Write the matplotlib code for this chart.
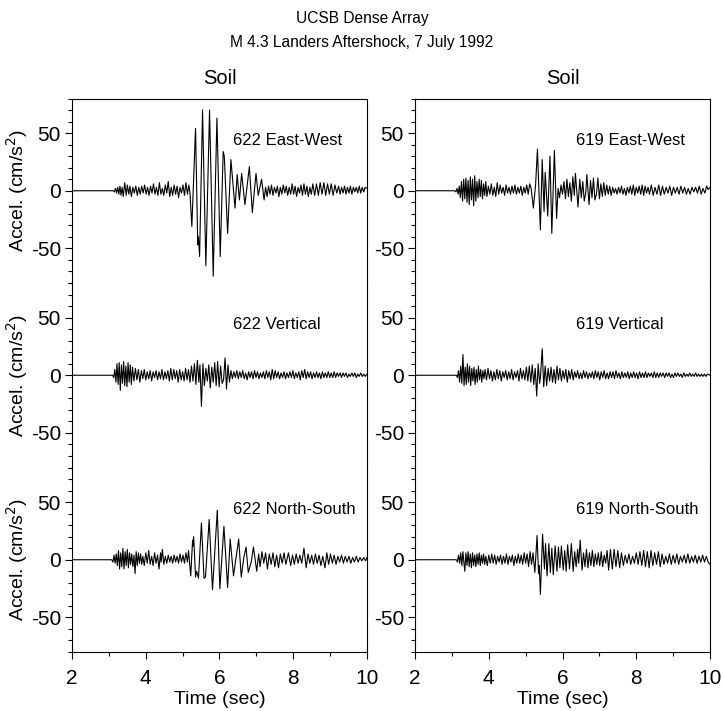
import matplotlib
matplotlib.use("Agg")
import matplotlib.pyplot as plt
import numpy as np
from matplotlib.ticker import MultipleLocator

plt.rcParams['font.family'] = ['Liberation Sans', 'DejaVu Sans']
plt.rcParams['axes.unicode_minus'] = False

# Traces as (time s, accel cm/s^2) vertices
ew622 = [(2.00, 0), (3.12, 0), (3.15, -1), (3.18, 2), (3.21, -2), (3.24, 3), (3.27, -3), (3.30, 4), (3.33, -4), (3.36, 3),
         (3.39, -5), (3.43, 7), (3.47, -4), (3.50, 5), (3.54, -3), (3.57, 4), (3.61, -5), (3.65, 3), (3.69, -2), (3.73, 4),
         (3.77, -4), (3.81, 3), (3.85, -3), (3.89, 4), (3.93, -2), (3.97, 5), (4.01, -3), (4.05, 3), (4.09, -4), (4.13, 4),
         (4.17, -2), (4.21, 6), (4.25, -3), (4.29, 3), (4.33, -4), (4.37, 7), (4.41, -3), (4.45, 2), (4.49, -4), (4.53, 5),
         (4.57, -2), (4.61, 8), (4.65, -5), (4.69, 3), (4.73, -4), (4.77, 5), (4.81, -3), (4.85, 4), (4.89, -6), (4.93, 3),
         (4.97, -2), (5.01, 5), (5.05, -4), (5.09, 7), (5.13, -3), (5.17, 5), (5.20, -2),
         (5.25, -31), (5.35, 54), (5.41, -47), (5.43, -40), (5.46, -57), (5.54, 70), (5.63, -65), (5.73, 70), (5.83, -74),
         (5.93, 63), (6.02, -57), (6.10, 34), (6.13, 30), (6.22, -37), (6.31, 27), (6.42, -15), (6.48, 14), (6.54, -8),
         (6.60, 15), (6.69, -12), (6.81, 21), (6.89, -19), (6.99, 15), (7.05, -4), (7.14, 10), (7.21, -8),
         (7.25, 3), (7.29, -5), (7.33, 4), (7.37, -3), (7.41, 5), (7.45, -4), (7.49, 3), (7.53, -2), (7.57, 4), (7.61, -5),
         (7.65, 3), (7.69, -3), (7.73, 5), (7.77, -2), (7.81, 4), (7.85, -4), (7.89, 3), (7.93, -3), (7.97, 6), (8.01, -3),
         (8.05, 4), (8.09, -5), (8.13, 3), (8.17, -2), (8.21, 5), (8.25, -4), (8.29, 6), (8.33, -3), (8.37, 4), (8.41, -5),
         (8.45, 3), (8.49, -3), (8.53, 6), (8.58, -4), (8.63, 6), (8.68, -4), (8.73, 7), (8.78, -3), (8.83, 7), (8.88, -4),
         (8.93, 6), (8.98, -3), (9.03, 6), (9.08, -4), (9.13, 5), (9.18, -2), (9.23, 4), (9.27, -3), (9.31, 3), (9.35, -2),
         (9.39, 4), (9.43, -3), (9.47, 3), (9.51, -2), (9.55, 4), (9.59, -3), (9.63, 3), (9.67, -1), (9.71, 3), (9.75, -2),
         (9.79, 4), (9.83, -2), (9.87, 3), (9.91, -1), (9.95, 3), (10.00, 2)]

v622 = [(2.00, 0), (3.10, 0), (3.13, -2), (3.16, 5), (3.19, -6), (3.22, 10), (3.25, -8), (3.28, 11), (3.31, -13), (3.34, 9),
        (3.37, -7), (3.40, 12), (3.43, -9), (3.46, 8), (3.49, -10), (3.52, 11), (3.55, -6), (3.58, 9), (3.61, -8), (3.64, 7),
        (3.68, -5), (3.72, 6), (3.76, -4), (3.80, 5), (3.84, -6), (3.88, 4), (3.92, -3), (3.96, 5), (4.00, -4), (4.04, 3),
        (4.08, -3), (4.12, 4), (4.16, -5), (4.20, 3), (4.24, -2), (4.28, 4), (4.32, -4), (4.36, 3), (4.40, -3), (4.44, 5),
        (4.48, -4), (4.52, 3), (4.56, -3), (4.60, 4), (4.64, -5), (4.68, 6), (4.72, -4), (4.76, 5), (4.80, -3), (4.84, 4),
        (4.88, -6), (4.92, 5), (4.96, -4), (5.00, 3), (5.04, -5), (5.08, 6), (5.12, -4), (5.16, 5), (5.20, -6), (5.24, 8),
        (5.28, -5), (5.32, 10), (5.36, -8), (5.40, 13), (5.44, -6), (5.47, 9), (5.51, -27), (5.55, 10), (5.59, -9),
        (5.63, 6), (5.67, -5), (5.71, 9), (5.75, -11), (5.79, 7), (5.83, -6), (5.87, 11), (5.91, -9), (5.95, 12),
        (5.99, -10), (6.03, 8), (6.07, -7), (6.11, -4), (6.15, 15), (6.19, -12), (6.23, 9), (6.27, -6), (6.31, 4),
        (6.35, -3), (6.39, 3), (6.43, -2), (6.47, 4), (6.51, -3), (6.55, 3), (6.59, -2), (6.63, 4), (6.67, -3), (6.71, 2),
        (6.75, -4), (6.79, 3), (6.83, -2), (6.87, 3), (6.91, -3), (6.95, 4), (6.99, -2), (7.03, 3), (7.07, -3), (7.11, 2),
        (7.15, -2), (7.19, 3), (7.23, -3), (7.27, 4), (7.31, -2), (7.35, 3), (7.39, -4), (7.43, 5), (7.47, -3), (7.51, 4),
        (7.55, -2), (7.59, 3), (7.63, -3), (7.67, 2), (7.71, -2), (7.75, 3), (7.79, -3), (7.83, 2), (7.87, -2), (7.91, 3),
        (7.95, -2), (7.99, 4), (8.03, -3), (8.07, 2), (8.11, -2), (8.15, 3), (8.19, -4), (8.23, 4), (8.27, -2), (8.31, 5),
        (8.35, -3), (8.39, 3), (8.43, -2), (8.47, 3), (8.51, -3), (8.55, 2), (8.59, -2), (8.63, 3), (8.67, -2), (8.71, 2),
        (8.75, -3), (8.79, 3), (8.83, -2), (8.87, 2), (8.91, -2), (8.95, 3), (8.99, -2), (9.03, 2), (9.07, -2), (9.11, 3),
        (9.15, -2), (9.19, 2), (9.23, -1), (9.27, 2), (9.31, -2), (9.35, 2), (9.39, -1), (9.43, 2), (9.47, -2), (9.51, 1),
        (9.55, -1), (9.59, 2), (9.63, -1), (9.67, 2), (9.71, -2), (9.75, 1), (9.79, -1), (9.83, 2), (9.87, -1), (9.91, 1),
        (9.95, -1), (10.00, 1)]

ns622 = [(2.00, 0), (3.08, 0), (3.11, -2), (3.14, 4), (3.17, -3), (3.20, 5), (3.23, -5), (3.26, 8), (3.29, -8), (3.32, 6),
         (3.35, -6), (3.38, 10), (3.41, -8), (3.44, 7), (3.47, -5), (3.50, 9), (3.53, -7), (3.56, 6), (3.59, -4), (3.62, 5),
         (3.65, -6), (3.68, 4), (3.71, -12), (3.74, 7), (3.77, -5), (3.80, 6), (3.83, -3), (3.86, 5), (3.89, -4), (3.92, 3),
         (3.96, -5), (4.00, 6), (4.04, -3), (4.08, 8), (4.12, -4), (4.16, 3), (4.20, -5), (4.24, 6), (4.28, -3), (4.32, 4),
         (4.36, -8), (4.40, 6), (4.42, -2), (4.45, 9), (4.49, -4), (4.53, 3), (4.57, -3), (4.61, 4), (4.65, -2), (4.69, 3),
         (4.73, -3), (4.77, 4), (4.81, -2), (4.85, 3), (4.89, -3), (4.93, 5), (4.97, -2), (5.01, 4), (5.05, -3), (5.09, 6),
         (5.13, -2), (5.16, 8), (5.19, -3), (5.22, -14), (5.27, 17), (5.28, 12), (5.30, 20), (5.35, -15), (5.38, -10),
         (5.43, -16), (5.51, 32), (5.58, -16), (5.62, -15), (5.72, 35), (5.81, -26), (5.94, 43), (6.01, -25), (6.12, 29),
         (6.22, -24), (6.29, 18), (6.38, -14), (6.52, 18), (6.59, -15), (6.66, 2), (6.72, 11), (6.78, -11), (6.86, -2),
         (6.92, 11), (7.01, -10), (7.06, 5), (7.10, -6), (7.15, 7), (7.20, -3), (7.25, 6), (7.30, -8), (7.35, 5), (7.40, -4),
         (7.45, 6), (7.50, -6), (7.55, 4), (7.60, -7), (7.65, 5), (7.70, -3), (7.75, 6), (7.80, -4), (7.87, 6), (7.93, -5),
         (7.98, 4), (8.03, -4), (8.08, 5), (8.13, -3), (8.18, 4), (8.23, -3), (8.29, 10), (8.35, -7), (8.40, 5), (8.45, -3),
         (8.50, 4), (8.55, -4), (8.60, 5), (8.65, -3), (8.70, 4), (8.75, -5), (8.80, 3), (8.86, -7), (8.91, 6), (8.96, -4),
         (9.01, 5), (9.06, -3), (9.11, 4), (9.16, -4), (9.21, 3), (9.26, -2), (9.31, 4), (9.36, -3), (9.41, 3), (9.46, -2),
         (9.51, 3), (9.56, -3), (9.61, 2), (9.66, -2), (9.71, 3), (9.76, -2), (9.81, 2), (9.86, -1), (9.91, 2), (9.96, -1),
         (10.00, 2)]

ew619 = [(2.00, 0), (3.08, 0), (3.11, -1), (3.14, 2), (3.17, -3), (3.20, 4), (3.23, -6), (3.26, 8), (3.29, -9), (3.32, 10),
         (3.35, -7), (3.38, 11), (3.41, -10), (3.44, 9), (3.47, -12), (3.50, 12), (3.53, -8), (3.56, 10), (3.59, -13),
         (3.62, 13), (3.65, -9), (3.68, 8), (3.71, -6), (3.74, 10), (3.77, -5), (3.80, 9), (3.83, -7), (3.86, 6), (3.89, -4),
         (3.92, 8), (3.95, -5), (3.99, 4), (4.03, -3), (4.07, 6), (4.11, -4), (4.15, 3), (4.19, -5), (4.23, 7), (4.27, -3),
         (4.31, 5), (4.35, -2), (4.39, 3), (4.43, -4), (4.47, 5), (4.51, -2), (4.55, 3), (4.59, -3), (4.63, 4), (4.67, -2),
         (4.71, 5), (4.75, -3), (4.79, 3), (4.83, -2), (4.87, 4), (4.91, -4), (4.95, 3), (4.99, -2), (5.03, 5), (5.07, -3),
         (5.11, 6), (5.15, 2), (5.21, -15), (5.27, 5), (5.32, 36), (5.40, -34), (5.45, 27), (5.50, -18), (5.53, 16),
         (5.60, -22), (5.66, 30), (5.71, -37), (5.78, 35), (5.84, -24), (5.88, 2), (5.92, -6), (5.96, 5), (6.00, -3),
         (6.04, 8), (6.08, -7), (6.12, 10), (6.16, -5), (6.20, 7), (6.24, -9), (6.28, 12), (6.32, -4), (6.35, 15),
         (6.42, -14), (6.47, 10), (6.51, -6), (6.55, 8), (6.59, -9), (6.63, -2), (6.66, 14), (6.72, -12), (6.76, 9),
         (6.80, -6), (6.84, 11), (6.88, -8), (6.92, -3), (6.96, 11), (7.00, -7), (7.04, 6), (7.08, -5), (7.12, 7), (7.16, -4),
         (7.20, 5), (7.24, -3), (7.28, 4), (7.32, -4), (7.36, 3), (7.40, -2), (7.44, 2), (7.48, -3), (7.52, 3), (7.56, -2),
         (7.60, 4), (7.64, -3), (7.68, 2), (7.72, -4), (7.76, 3), (7.80, -2), (7.84, 4), (7.88, -3), (7.92, 5), (7.96, -4),
         (8.00, 3), (8.04, -2), (8.08, 4), (8.12, -3), (8.16, 5), (8.20, -4), (8.24, 4), (8.28, -2), (8.32, 3), (8.36, -3),
         (8.41, 5), (8.46, -4), (8.51, 3), (8.56, -3), (8.61, 5), (8.66, -4), (8.71, 4), (8.76, -3), (8.81, 3), (8.86, -2),
         (8.91, 4), (8.96, -4), (9.01, 3), (9.06, -2), (9.11, 3), (9.16, -3), (9.21, 4), (9.26, -2), (9.31, 3), (9.36, -3),
         (9.41, 2), (9.46, -3), (9.51, 3), (9.56, -1), (9.61, 3), (9.66, -2), (9.71, 4), (9.76, -3), (9.81, 2), (9.86, -2),
         (9.91, 4), (9.95, 1), (10.00, 3)]

v619 = [(2.00, 0), (3.12, 0), (3.15, -2), (3.18, 4), (3.21, -6), (3.24, 8), (3.27, -7), (3.30, 18), (3.33, -9), (3.36, 7),
        (3.39, -8), (3.42, 10), (3.45, -6), (3.48, 8), (3.51, -9), (3.54, 6), (3.57, -5), (3.60, 7), (3.63, -8), (3.66, 5),
        (3.69, -6), (3.72, 8), (3.75, -4), (3.78, 5), (3.81, -6), (3.84, 4), (3.87, -3), (3.90, 5), (3.94, -4), (3.98, 6),
        (4.02, -3), (4.06, 4), (4.10, -5), (4.14, 3), (4.18, -4), (4.22, 5), (4.26, -3), (4.30, 4), (4.34, -5), (4.38, 3),
        (4.42, -2), (4.46, 4), (4.50, -4), (4.54, 3), (4.58, -3), (4.62, 5), (4.66, -4), (4.70, 3), (4.74, -2), (4.78, 4),
        (4.82, -5), (4.86, 6), (4.90, -3), (4.94, 4), (4.98, -4), (5.02, 7), (5.06, -5), (5.10, 8), (5.14, -6), (5.18, 9),
        (5.22, -8), (5.26, 6), (5.30, -18), (5.34, 10), (5.38, -7), (5.40, -2), (5.45, 23), (5.49, -10), (5.53, 8),
        (5.57, -9), (5.61, 6), (5.65, -5), (5.69, 7), (5.73, -6), (5.77, 5), (5.81, -7), (5.85, 8), (5.89, -4), (5.93, 6),
        (5.97, -5), (6.01, 4), (6.05, -3), (6.09, 5), (6.13, -6), (6.17, 4), (6.21, -3), (6.25, 5), (6.29, -4), (6.33, 3),
        (6.37, -2), (6.41, 4), (6.45, -3), (6.49, 2), (6.53, -3), (6.57, 4), (6.61, -2), (6.65, 3), (6.69, -3), (6.73, 2),
        (6.77, -2), (6.81, 3), (6.85, -3), (6.89, 4), (6.93, -2), (6.97, 3), (7.01, -4), (7.05, 3), (7.09, -2), (7.13, 4),
        (7.17, -3), (7.21, 2), (7.25, -3), (7.29, 3), (7.33, -2), (7.37, 3), (7.41, -3), (7.45, 4), (7.49, -2), (7.53, 2),
        (7.57, -3), (7.61, 3), (7.65, -2), (7.69, 2), (7.73, -2), (7.77, 3), (7.81, -3), (7.85, 2), (7.89, -2), (7.93, 3),
        (7.97, -2), (8.01, 2), (8.05, -3), (8.09, 3), (8.13, -2), (8.17, 2), (8.21, -2), (8.25, 3), (8.29, -2), (8.33, 2),
        (8.37, -1), (8.41, 2), (8.45, -2), (8.49, 3), (8.53, -2), (8.57, 2), (8.61, -2), (8.65, 2), (8.69, -1), (8.73, 2),
        (8.77, -2), (8.81, 2), (8.85, -1), (8.89, 2), (8.93, -2), (8.97, 1), (9.01, -2), (9.05, 2), (9.09, -1), (9.13, 2),
        (9.17, -1), (9.21, 1), (9.25, -2), (9.29, 2), (9.33, -1), (9.37, 1), (9.41, -1), (9.45, 2), (9.49, -1), (9.53, 1),
        (9.57, -1), (9.61, 2), (9.65, -1), (9.69, 1), (9.73, -1), (9.77, 1), (9.81, -1), (9.85, 1), (9.89, -1), (9.93, 1),
        (10.00, 0)]

ns619 = [(2.00, 0), (3.12, 0), (3.15, -2), (3.18, 4), (3.21, -3), (3.24, 6), (3.27, -5), (3.30, 7), (3.33, -4), (3.35, -10),
         (3.38, 6), (3.41, -5), (3.44, 7), (3.47, -6), (3.50, 5), (3.53, -7), (3.56, 6), (3.59, -5), (3.62, 4), (3.65, -6),
         (3.68, 5), (3.71, -4), (3.74, 6), (3.77, -5), (3.80, 4), (3.83, -3), (3.86, 5), (3.89, -4), (3.92, 3), (3.96, -5),
         (4.00, 4), (4.04, -3), (4.08, 5), (4.12, -3), (4.16, 4), (4.20, -4), (4.24, 3), (4.28, -2), (4.32, 4), (4.36, -4),
         (4.40, 3), (4.44, -3), (4.48, 5), (4.52, -4), (4.56, 3), (4.60, -2), (4.64, 4), (4.68, -5), (4.72, 3), (4.76, -3),
         (4.80, 5), (4.84, -3), (4.88, 4), (4.92, -4), (4.96, 6), (5.00, -3), (5.04, 5), (5.08, -6), (5.12, 7), (5.16, -4),
         (5.20, 6), (5.25, -11), (5.31, 21), (5.35, -12), (5.37, -5), (5.40, -30), (5.46, 22), (5.51, -8), (5.54, 14),
         (5.58, -14), (5.63, 14), (5.67, -11), (5.71, 10), (5.75, -13), (5.80, 12), (5.85, -10), (5.89, 11), (5.93, -7),
         (5.97, 12), (6.02, -9), (6.06, 8), (6.10, -10), (6.14, 13), (6.19, -8), (6.24, 14), (6.29, -10), (6.33, 7),
         (6.37, -6), (6.41, 9), (6.44, -3), (6.48, 17), (6.53, -9), (6.57, 6), (6.61, -6), (6.65, 9), (6.69, -7), (6.73, 6),
         (6.77, -5), (6.81, 8), (6.85, -6), (6.89, 5), (6.93, -4), (6.97, 6), (7.01, -5), (7.05, 7), (7.09, -6), (7.13, 4),
         (7.17, -3), (7.21, 8), (7.25, -9), (7.30, 9), (7.35, -8), (7.40, 9), (7.45, -6), (7.50, 8), (7.55, -7), (7.60, 6),
         (7.65, -5), (7.70, 4), (7.75, -3), (7.80, 5), (7.85, -4), (7.90, 3), (7.95, -3), (8.00, 6), (8.05, -4), (8.10, 7),
         (8.15, -5), (8.20, 8), (8.25, -6), (8.30, 7), (8.35, -7), (8.40, 8), (8.45, -5), (8.50, 6), (8.55, -4), (8.60, 7),
         (8.65, -6), (8.70, 5), (8.75, -4), (8.80, 3), (8.85, -3), (8.90, 5), (8.95, -4), (9.00, 4), (9.05, -3), (9.10, 5),
         (9.15, -4), (9.20, 3), (9.25, -2), (9.30, 4), (9.35, -3), (9.40, 5), (9.45, -3), (9.50, 3), (9.55, -2), (9.60, 4),
         (9.65, -3), (9.70, 3), (9.75, -2), (9.80, 4), (9.85, -2), (9.90, 3), (9.95, -2), (10.00, -4)]

columns = [[ew622, v622, ns622], [ew619, v619, ns619]]
labels = [["622 East-West", "622 Vertical", "622 North-South"],
          ["619 East-West", "619 Vertical", "619 North-South"]]
col_titles = ["Soil", "Soil"]

W, H = 724, 711
fig = plt.figure(figsize=(W / 100, H / 100), dpi=100)

col_left = [72, 415]
col_width = 295
top_px, bottom_px = 98.5, 652
panel_h = (bottom_px - top_px) / 3

for c in range(2):
    for r in range(3):
        ax_bottom = 1 - (top_px + (r + 1) * panel_h) / H
        ax = fig.add_axes([col_left[c] / W, ax_bottom, col_width / W, panel_h / H])
        t, a = np.array(columns[c][r], dtype=float).T
        ax.plot(t, a, color='black', lw=0.8)
        ax.set_xlim(2, 10)
        ax.set_ylim(-80, 80)
        ax.yaxis.set_major_locator(MultipleLocator(50))
        ax.yaxis.set_minor_locator(MultipleLocator(10))
        ax.xaxis.set_major_locator(MultipleLocator(2))
        ax.xaxis.set_minor_locator(MultipleLocator(1))
        ax.tick_params(which='both', direction='out', labelsize=15, right=False, top=False, pad=3)
        ax.tick_params(axis='x', which='both', pad=7.5)
        ax.tick_params(which='major', length=5, width=0.8)
        ax.tick_params(which='minor', length=3, width=0.8)
        for s in ax.spines.values():
            s.set_linewidth(0.8)
        if r > 0:
            ax.spines['top'].set_visible(False)
        if r < 2:
            ax.spines['bottom'].set_visible(False)
            ax.tick_params(axis='x', which='both', bottom=False, labelbottom=False)
        else:
            ax.set_xlabel("Time (sec)", fontsize=14, labelpad=2)
        if c == 0:
            ax.set_ylabel("Accel. (cm/s$^2$)", fontsize=14)
            ax.yaxis.set_label_coords(-0.142, 0.5)
        ax.text(6.36, 44, labels[c][r], fontsize=12, ha='left', va='center')
    fig.text((col_left[c] + col_width / 2) / W, 1 - 79 / H, col_titles[c], fontsize=14.5,
             ha='center', va='center')

fig.text(0.5, 1 - 18 / H, "UCSB Dense Array", fontsize=11.2, ha='center', va='center')
fig.text(0.5, 1 - 43 / H, "M 4.3 Landers Aftershock, 7 July 1992", fontsize=11.2, ha='center', va='center')

fig.savefig("out.png", dpi=100)
